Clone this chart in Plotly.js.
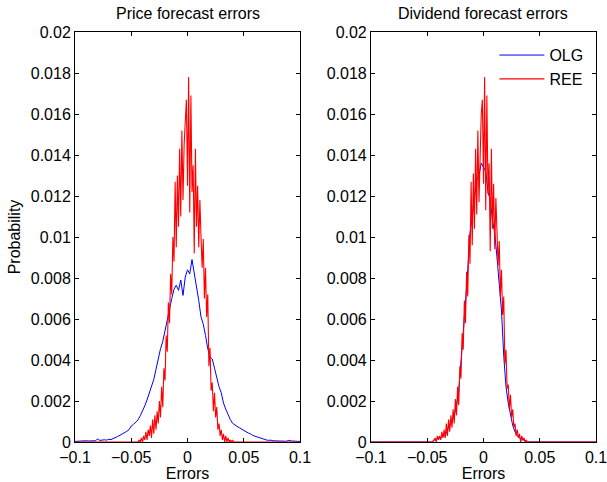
<!DOCTYPE html>
<html>
<head>
<meta charset="utf-8">
<script src="https://cdn.plot.ly/plotly-3.0.1.min.js"></script>
<style>html,body{margin:0;padding:0;background:#fff;}#chart{width:607px;height:482px;}</style>
</head>
<body>
<div id="chart"></div>
<script>
const coarseStart = -0.1, coarseStep = 0.002, coarseCount = 101;   // OLG histograms
const fineStart = -0.045, fineStep = 0.001, fineCount = 91;        // REE histograms (non-zero support)

// Price forecast errors, OLG (blue)
const priceOLG = [
  0.00003,0.00004,0.00003,0.00005,0.00004,0.00006,0.00005,0.00006,0.00008,0.00006,
  0.00014,0.00008,0.00009,0.00011,0.00009,0.00013,0.00012,0.00016,0.00022,0.00027,
  0.00033,0.00038,0.00046,0.00052,0.00060,0.00078,0.00086,0.00098,0.00108,0.00128,
  0.00150,0.00176,0.00205,0.00238,0.00262,0.00305,0.00355,0.00415,0.00455,0.00490,
  0.00545,0.00590,0.00650,0.00700,0.00745,0.00765,0.00740,0.00790,0.00715,0.00805,
  0.00840,
  0.00820,0.00890,0.00830,0.00770,0.00690,0.00610,0.00575,0.00520,0.00455,0.00415,
  0.00405,0.00360,0.00310,0.00270,0.00240,0.00190,0.00160,0.00130,0.00110,0.00092,
  0.00082,0.00076,0.00070,0.00062,0.00056,0.00050,0.00044,0.00040,0.00032,0.00028,
  0.00025,0.00020,0.00015,0.00012,0.00010,0.00008,0.00009,0.00006,0.00005,0.00006,
  0.00004,0.00005,0.00004,0.00004,0.00008,0.00005,0.00003,0.00004,0.00003,0.00003
];

// Price forecast errors, REE (red), bins -0.045 ... 0.045
const priceREE = [
  0,0,0.0001,0,0.0002,0,0.0003,0.0001,0.0005,0.0001,
  0.0006,0.0003,0.0008,0.0002,0.0011,0.0004,0.0013,0.0006,0.0015,0.0009,
  0.0020,0.0012,0.0027,0.0017,0.0036,0.0030,0.0052,0.0044,0.0068,0.0058,
  0.0082,0.0072,0.0100,0.0088,0.0127,0.0095,0.0130,0.0105,0.0143,0.0110,
  0.0152,0.0118,0.0145,0.0160,0.0167,0.0125,
  0.0178,0.0112,0.0169,0.0122,0.0135,0.0092,0.0143,0.0105,0.0125,0.0095,
  0.0118,0.0100,0.0085,0.0099,0.0070,0.0085,0.0061,0.0072,0.0037,0.0046,
  0.0025,0.0029,0.0015,0.0024,0.0012,0.0017,0.0006,0.0009,0.0003,0.0006,
  0.0001,0.0004,0,0.0003,0,0.0002,0,0.0001,0,0.0001,
  0,0,0,0,0
];

// Dividend forecast errors, OLG (blue, mostly hidden under red)
const dividendOLG = [
  0,0,0,0,0,0,0,0,0,0,
  0,0,0,0,0,0,0,0,0,0,
  0,0,0,0,0,0,0,0,
  0.0001,0.0001,0.0002,0.0002,0.0003,0.0003,0.0006,0.0008,0.0010,0.0013,
  0.0018,0.0025,0.0038,0.0055,0.0068,0.0084,0.0102,0.0110,0.0120,0.0128,
  0.0130,0.0136,0.0134,0.0132,0.0122,0.0118,0.0108,0.0102,0.0090,0.0076,
  0.0064,0.0042,0.0027,0.0019,0.0014,0.0008,0.0005,0.0003,0.0002,0.0001,
  0.0001,0,
  0,0,0,0,0,0,0,0,0,0,
  0,0,0,0,0,0,0,0,0,0,
  0,0,0,0,0,0,0,0,0,0,0
];

// Dividend forecast errors, REE (red), bins -0.045 ... 0.045
const dividendREE = [
  0,0.0001,0.0002,0,0.0003,0.0001,0.0003,0.0001,0.0005,0.0002,
  0.0006,0.0002,0.0009,0.0003,0.0011,0.0005,0.0013,0.0007,0.0016,0.0009,
  0.0021,0.0013,0.0027,0.0018,0.0037,0.0031,0.0053,0.0045,0.0069,0.0058,
  0.0083,0.0071,0.0101,0.0087,0.0127,0.0096,0.0131,0.0104,0.0143,0.0111,
  0.0152,0.0117,0.0146,0.0160,0.0167,0.0126,
  0.0178,0.0113,0.0169,0.0121,0.0136,0.0093,0.0143,0.0104,0.0126,0.0094,
  0.0119,0.0099,0.0086,0.0098,0.0071,0.0084,0.0062,0.0071,0.0038,0.0045,
  0.0026,0.0028,0.0016,0.0023,0.0012,0.0016,0.0007,0.0009,0.0003,0.0006,
  0.0002,0.0004,0,0.0003,0.0001,0.0002,0,0.0001,0,0,
  0,0,0,0,0
];

const yTicks = [0,0.002,0.004,0.006,0.008,0.01,0.012,0.014,0.016,0.018,0.02];
const xTicks = [-0.1,-0.05,0,0.05,0.1];
const xTickText = ['\u22120.1','\u22120.05','0','0.05','0.1'];
const titles = ['Price forecast errors','Dividend forecast errors'];

function grid(start, step, n){ const g=[]; for(let i=0;i<n;i++) g.push(+(start+i*step).toFixed(4)); return g; }
const xc = grid(coarseStart, coarseStep, coarseCount);
const xf = [-0.1].concat(grid(fineStart, fineStep, fineCount), [0.1]);
const pad = v => [0].concat(v, [0]);

const BLUE='#0000ff', RED='#ff0000';
const traces = [
  {x:xc, y:priceOLG, xaxis:'x', yaxis:'y', type:'scatter', mode:'lines', line:{color:BLUE,width:1}, showlegend:false},
  {x:xf, y:pad(priceREE), xaxis:'x', yaxis:'y', type:'scatter', mode:'lines', line:{color:RED,width:1.1}, showlegend:false},
  {x:xc, y:dividendOLG, xaxis:'x2', yaxis:'y2', type:'scatter', mode:'lines', name:'OLG', legendgroup:'a', line:{color:BLUE,width:1}},
  {x:xf, y:pad(dividendREE), xaxis:'x2', yaxis:'y2', type:'scatter', mode:'lines', name:'REE', legendgroup:'b', line:{color:RED,width:1.1}}
];

const FONT = {family:'Liberation Sans, Arial, Helvetica, sans-serif', size:16, color:'#000'};
const axisCommon = {
  showline:true, linecolor:'#000', linewidth:1, mirror:'ticks',
  ticks:'inside', ticklen:4, tickcolor:'#000', tickwidth:1,
  showgrid:false, zeroline:false, tickfont:FONT
};
const xAx = d => Object.assign({}, axisCommon, {domain:d, range:[-0.1,0.1], tickmode:'array', tickvals:xTicks, ticktext:xTickText, ticklabelstandoff:1, ticklabeloverflow:'allow', title:{text:'Errors', font:FONT, standoff:4}});
const yAx = (anchor, withTitle) => Object.assign({}, axisCommon, {anchor:anchor, range:[0,0.02], tickmode:'array', tickvals:yTicks, ticktext:yTicks.map(String), title: withTitle ? {text:'Probability', font:FONT, standoff:6} : {text:''}});

const layout = {
  width:607, height:482,
  margin:{l:75, r:11, t:32, b:40},
  paper_bgcolor:'#fff', plot_bgcolor:'#fff',
  font:FONT,
  xaxis: Object.assign(xAx([0, 0.4319]), {anchor:'y'}),
  yaxis: yAx('x', true),
  xaxis2: Object.assign(xAx([0.5681, 1]), {anchor:'y2'}),
  yaxis2: yAx('x2', false),
  showlegend:true,
  legend:{x:0.805, y:0.985, xanchor:'left', yanchor:'top', bgcolor:'rgba(0,0,0,0)', borderwidth:0, font:FONT, tracegroupgap:0, itemwidth:45},
  annotations: titles.map((t,i)=>({text:t, xref:(i===0?'x':'x2')+' domain', yref:'paper', x:0.5, y:1, xanchor:'center', yanchor:'bottom', yshift:8, showarrow:false, font:FONT}))
};

Plotly.newPlot('chart', traces, layout, {displayModeBar:false, staticPlot:true});
</script>
</body>
</html>
